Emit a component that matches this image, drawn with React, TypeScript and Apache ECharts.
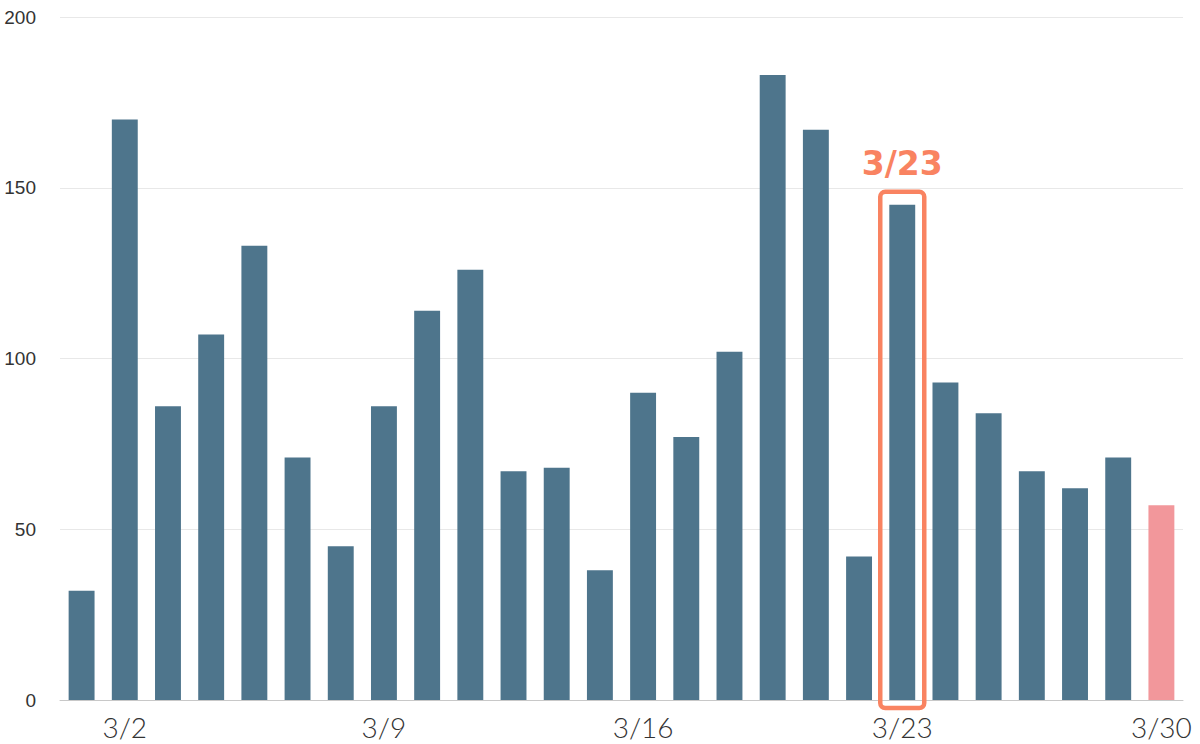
import React, { useEffect, useRef } from "react";
import * as echarts from "echarts";

const categories = [
  "2/29",
  "3/2", "3/3", "3/4", "3/5", "3/6", "3/7",
  "3/9", "3/10", "3/11", "3/12", "3/13", "3/14",
  "3/16", "3/17", "3/18", "3/19", "3/20", "3/21",
  "3/23", "3/24", "3/25", "3/26", "3/27", "3/28",
  "3/30",
];
const values = [
  32,
  170, 86, 107, 133, 71, 45,
  86, 114, 126, 67, 68, 38,
  90, 77, 102, 183, 167, 42,
  145, 93, 84, 67, 62, 71,
  57,
];
const shownLabels = ["3/2", "3/9", "3/16", "3/23", "3/30"];
const highlightDate = "3/23";
const partialDate = "3/30";
const yTicks = [0, 50, 100, 150, 200];

const BAR = "#4E758C";
const PARTIAL = "#F2979B";
const ACCENT = "#F98361";

export default function App() {
  const ref = useRef<HTMLDivElement>(null);
  useEffect(() => {
    if (!ref.current) return;
    const chart = echarts.init(ref.current, null, { renderer: "svg" });
    chart.setOption({
      animation: false,
      grid: { left: 60, right: 17, top: 17, bottom: 44 },
      xAxis: {
        type: "category",
        data: categories,
        axisLine: { lineStyle: { color: "#c8c8c8", width: 1 } },
        axisTick: { show: false },
        axisLabel: {
          interval: (i: number, v: string) => shownLabels.includes(v),
          color: "#333",
          fontSize: 28,
          lineHeight: 30,
          fontWeight: 300,
          fontFamily: "Lato, 'Noto Sans', sans-serif",
          margin: 12,
        },
      },
      yAxis: {
        type: "value",
        min: yTicks[0],
        max: yTicks[yTicks.length - 1],
        interval: 50,
        axisLine: { show: false },
        axisTick: { show: false },
        axisLabel: {
          color: "#333",
          fontSize: 19,
          fontFamily: "'Liberation Sans', Arial, sans-serif",
          margin: 24,
        },
        splitLine: { lineStyle: { color: "#e8e8e8", width: 1 } },
      },
      series: [
        {
          type: "bar",
          barCategoryGap: "40%",
          data: values.map((v, i) => ({
            value: v,
            itemStyle: { color: categories[i] === partialDate ? PARTIAL : BAR },
          })),
        },
      ],
    });

    const idx = categories.indexOf(highlightDate);
    const center = chart.convertToPixel({ xAxisIndex: 0 }, idx) as number;
    const top = chart.convertToPixel({ yAxisIndex: 0 }, values[idx]) as number;
    const base = chart.convertToPixel({ yAxisIndex: 0 }, 0) as number;
    const halfW = 22;
    chart.setOption({
      graphic: [
        {
          type: "rect",
          shape: { x: center - halfW, y: top - 13, width: halfW * 2, height: base - top + 21, r: 5 },
          style: { fill: "none", stroke: ACCENT, lineWidth: 4.5 },
          z: 100,
        },
        {
          type: "text",
          x: center,
          y: top - 41,
          style: {
            text: highlightDate,
            fill: ACCENT,
            font: `bold 33px 'DejaVu Sans', sans-serif`,
            textAlign: "center",
            textVerticalAlign: "middle",
          },
          z: 100,
        },
      ],
    });
    return () => chart.dispose();
  }, []);
  return <div ref={ref} style={{ width: 1200, height: 744, position: "absolute", left: 0, top: 0 }} />;
}
